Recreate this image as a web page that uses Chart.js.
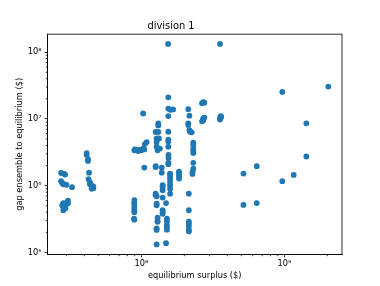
<!DOCTYPE html>
<html>
<head>
<meta charset="utf-8">
<script src="https://cdn.jsdelivr.net/npm/chart.js@4/dist/chart.umd.min.js"></script>
<style>html,body{margin:0;padding:0;background:#fff}canvas{display:block}</style>
</head>
<body>
<canvas id="myChart" width="380" height="286"></canvas>
<script>
// equilibrium surplus ($), one entry per point
var surplus = [
    2.75e7, 2.9e7, 2.93e7, 2.75e7, 2.8e7, 2.85e7, 2.93e7, 3.0e7, 3.28e7, 2.85e7, 2.85e7, 2.85e7, 2.93e7, 3.0e7, 3.07e7, 3.07e7, 2.95e7, 2.8e7,
    4.15e7, 4.15e7, 4.24e7, 4.24e7, 4.31e7, 4.28e7, 4.38e7, 4.38e7, 4.5e7, 4.62e7, 4.62e7, 4.5e7,
    8.94e7, 8.94e7, 8.94e7, 8.94e7, 8.94e7, 8.94e7, 8.94e7, 8.9e7, 8.94e7, 9.04e7, 9.33e7, 9.5e7, 9.79e7, 1.0e8, 1.03e8, 1.05e8, 1.09e8, 1.06e8, 1.03e8, 1.05e8,
    1.315e8, 1.315e8, 1.26e8, 1.315e8, 1.28e8, 1.33e8, 1.28e8, 1.28e8, 1.35e8, 1.3e8, 1.26e8, 1.26e8, 1.39e8, 1.39e8, 1.41e8, 1.41e8, 1.41e8, 1.26e8, 1.26e8, 1.28e8, 1.41e8, 1.28e8, 1.28e8, 1.41e8, 1.41e8, 1.41e8, 1.3e8, 1.3e8, 1.3e8, 1.28e8, 1.28e8, 1.28e8,
    1.54e8, 1.545e8, 1.545e8, 1.67e8, 1.6e8, 1.545e8, 1.545e8, 1.545e8, 1.545e8, 1.545e8, 1.55e8, 1.55e8, 1.55e8, 1.545e8, 1.59e8, 1.59e8, 1.59e8, 1.59e8, 1.59e8, 1.59e8, 1.59e8, 1.49e8, 1.51e8, 1.51e8, 1.51e8, 1.51e8, 1.51e8, 1.49e8,
    1.835e8, 1.835e8, 1.835e8, 1.835e8,
    2.13e8, 2.17e8, 2.13e8, 2.13e8, 2.17e8, 2.2e8, 2.25e8, 2.31e8, 2.31e8, 2.31e8, 2.31e8, 2.31e8, 2.31e8, 2.31e8, 2.28e8, 2.28e8, 2.15e8, 2.15e8, 2.15e8, 2.15e8, 2.15e8, 2.15e8, 2.15e8,
    2.71e8, 2.66e8, 2.76e8, 2.71e8, 2.71e8, 2.66e8, 2.76e8,
    3.55e8, 3.59e8, 3.55e8, 3.62e8, 3.55e8,
    5.18e8, 5.18e8, 6.41e8, 6.41e8, 9.68e8, 9.68e8, 1.163e9, 1.425e9, 1.425e9, 2.03e9
];
// gap ensemble to equilibrium ($), same order
var gap = [
    1.55e6, 1.5e6, 1.47e6, 1.17e6, 1.1e6, 1.05e6, 1.05e6, 1.03e6, 9.5e5, 5.5e5, 4.8e5, 4.3e5, 5.2e5, 5.5e5, 6.0e5, 5.4e5, 4.6e5, 5.1e5,
    3.08e6, 2.9e6, 2.5e6, 2.35e6, 1.57e6, 1.25e6, 1.12e6, 1.05e6, 1.0e6, 9.2e5, 9.8e5, 9.0e5,
    6.1e5, 5.6e5, 5.2e5, 4.7e5, 4.3e5, 4.0e5, 3.1e5, 3.2e5, 3.4e6, 3.5e6, 3.45e6, 3.3e6, 3.45e6, 3.4e6, 3.6e6, 3.5e6, 4.5e6, 4.2e6, 1.21e7, 1.87e6,
    8.6e6, 8.0e6, 6.4e6, 6.4e6, 5.1e6, 5.1e6, 4.5e6, 3.85e6, 3.6e6, 3.4e6, 1.96e6, 1.9e6, 1.87e6, 1.57e6, 1.02e6, 9.5e5, 8.55e5, 7.6e5, 7.2e5, 6.95e5, 6.65e5, 5.4e5, 5.1e5, 4.3e5, 3.8e5, 4.0e5, 3.33e5, 3.0e5, 2.88e5, 2.18e5, 2.3e5, 1.32e5,
    1.33e8, 2.11e7, 1.43e7, 1.39e7, 1.37e7, 1.105e7, 6.43e6, 4.9e6, 4.6e6, 3.85e6, 2.9e6, 2.6e6, 2.2e6, 2.1e6, 1.52e6, 1.4e6, 1.28e6, 1.15e6, 1.02e6, 9.0e5, 7.6e5, 5.5e5, 3.2e5, 2.9e5, 2.6e5, 2.4e5, 2.2e5, 1.38e5,
    1.62e6, 1.5e6, 1.4e6, 1.28e6,
    1.4e7, 1.12e7, 8.6e6, 8.1e6, 6.8e6, 6.4e6, 6.3e6, 4.4e6, 4.1e6, 3.6e6, 3.3e6, 3.1e6, 2.2e6, 1.8e6, 1.6e6, 1.5e6, 7.6e5, 4.3e5, 2.9e5, 2.7e5, 2.5e5, 2.2e5, 2.07e5,
    1.78e7, 1.72e7, 1.75e7, 1.02e7, 9.6e6, 9.2e6, 1.05e7,
    1.33e8, 1.1e7, 1.03e7, 1.07e7, 9.8e6,
    1.52e6, 5.15e5, 1.96e6, 5.5e5, 2.54e7, 1.17e6, 1.45e6, 8.6e6, 2.74e6, 3.05e7
];

var xTicks = [1e8, 1e9];
var xTickLabels = ['10\u2078', '10\u2079'];
var yTicks = [1e5, 1e6, 1e7, 1e8];
var yTickLabels = ['10\u2075', '10\u2076', '10\u2077', '10\u2078'];
var minorSteps = [2, 3, 4, 5, 6, 7, 8, 9];

var ctx = document.getElementById("myChart").getContext('2d');
Chart.defaults.font.family = '"DejaVu Sans", sans-serif';
Chart.defaults.color = '#000';

var points = surplus.map(function(x, i){ return {x: x, y: gap[i]}; });

function labelFor(ticks, labels){
    return function(value){
        var i = ticks.indexOf(value);
        return i < 0 ? '' : labels[i];
    };
}

// matplotlib-like frame plus short minor ticks
var framePlugin = {
    id: 'frame',
    afterDraw: function(chart){
        var a = chart.chartArea, c = chart.ctx;
        c.save();
        c.strokeStyle = '#000';
        c.lineWidth = 0.8;
        c.strokeRect(a.left, a.top, a.right - a.left, a.bottom - a.top);
        ['x', 'y'].forEach(function(id){
            var s = chart.scales[id];
            var e0 = Math.floor(Math.log10(s.min)), e1 = Math.ceil(Math.log10(s.max));
            for(var e = e0; e <= e1; e++){
                minorSteps.forEach(function(k){
                    var v = k * Math.pow(10, e);
                    if(v < s.min || v > s.max) return;
                    var p = s.getPixelForValue(v);
                    c.beginPath();
                    if(id === 'x'){ c.moveTo(p, a.bottom); c.lineTo(p, a.bottom + 1.7); }
                    else { c.moveTo(a.left, p); c.lineTo(a.left - 1.7, p); }
                    c.stroke();
                });
            }
        });
        c.restore();
    }
};

var myChart = new Chart(ctx, {
    type: 'scatter',
    data: {
        datasets: [{
            data: points,
            backgroundColor: '#1f77b4',
            borderColor: '#1f77b4',
            borderWidth: 0,
            pointRadius: 2.9
        }]
    },
    options: {
        responsive: false,
        animation: false,
        devicePixelRatio: 1,
        layout: { padding: { left: 0, right: 38, top: 0, bottom: 0 } },
        plugins: {
            legend: { display: false },
            tooltip: { enabled: false },
            title: {
                display: true,
                text: 'division 1',
                color: '#000',
                font: { size: 9.9, weight: 'normal' },
                padding: { top: 20, bottom: 2.3 }
            }
        },
        scales: {
            x: {
                type: 'logarithmic',
                min: 2.21e7,
                max: 2.53e9,
                afterBuildTicks: function(s){ s.ticks = xTicks.map(function(v){ return {value: v}; }); },
                afterFit: function(s){ s.height = 31.5; },
                ticks: { autoSkip: false, maxRotation: 0, padding: 2, font: { size: 8.25 }, callback: labelFor(xTicks, xTickLabels) },
                grid: { drawOnChartArea: false, tickLength: 2.9, tickColor: '#000', tickWidth: 0.8 },
                border: { color: '#000', width: 0.8 },
                title: { display: true, text: 'equilibrium surplus ($)', font: { size: 8.25 }, padding: { top: 0, bottom: 5 } }
            },
            y: {
                type: 'logarithmic',
                min: 9.33e4,
                max: 1.86e8,
                afterBuildTicks: function(s){ s.ticks = yTicks.map(function(v){ return {value: v}; }); },
                afterFit: function(s){ s.width = 47.5; },
                ticks: { autoSkip: false, padding: 3, font: { size: 8.25 }, callback: labelFor(yTicks, yTickLabels) },
                grid: { drawOnChartArea: false, tickLength: 2.9, tickColor: '#000', tickWidth: 0.8 },
                border: { color: '#000', width: 0.8 },
                title: { display: true, text: 'gap ensemble to equilibrium ($)', font: { size: 8.25 }, padding: { top: 15, bottom: 0 } }
            }
        }
    },
    plugins: [framePlugin]
});
</script>
</body>
</html>
